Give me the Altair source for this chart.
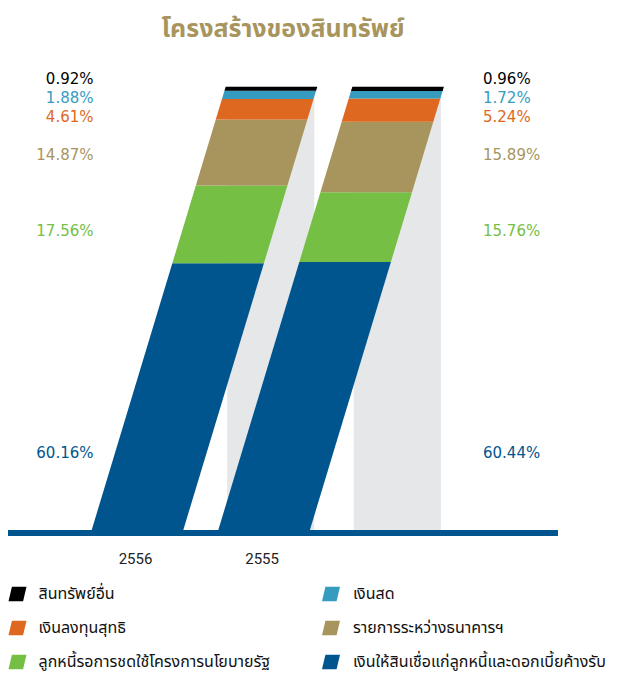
import altair as alt
import pandas as pd

# ---------------- DATA ----------------
categories = [  # bottom -> top of each stacked bar
    "เงินให้สินเชื่อแก่ลูกหนี้และดอกเบี้ยค้างรับ",
    "ลูกหนี้รอการชดใช้โครงการนโยบายรัฐ",
    "รายการระหว่างธนาคารฯ",
    "เงินลงทุนสุทธิ",
    "เงินสด",
    "สินทรัพย์อื่น",
]
colors = ["#00558f", "#74bf44", "#a8955e", "#df6820", "#359cc0", "#000000"]
years = ["2556", "2555"]
values_2556 = [60.16, 17.56, 14.87, 4.61, 1.88, 0.92]
values_2555 = [60.44, 15.76, 15.89, 5.24, 1.72, 0.96]
series = [values_2556, values_2555]
title_text = "โครงสร้างของสินทรัพย์"

# ---------------- LAYOUT ----------------
W_PLOT, H_PLOT = 604, 665          # whole canvas (padding 0, autosize none)
ORIGIN = 8                          # page margin
BASE_PX = 530 - ORIGIN              # y pixel of 0 %
PX_PER_PCT = 4.433                  # pixels per percent
BAR_LEFT = [91.7 - ORIGIN, 218.3 - ORIGIN]
BAR_W = 91.6
SLANT = 134.0                       # horizontal shift over 100 %
label_rows_px = [453, 231, 155, 117, 98, 79]   # label rows, per category
LEFT_LABEL_X = 93.5 - ORIGIN
RIGHT_LABEL_X = 483 - ORIGIN

def to_v(py_plot):
    return (BASE_PX - py_plot) / PX_PER_PCT

y_dom = [to_v(H_PLOT), to_v(0)]
xs = alt.Scale(domain=[0, W_PLOT], nice=False, zero=False)
ys = alt.Scale(domain=y_dom, nice=False, zero=False)
cs = alt.Scale(domain=categories, range=colors)

# ---------------- TABLES ----------------
area_rows, shadow_rows, year_rows = [], [], []
for i, (yr, vals) in enumerate(zip(years, series)):
    cum = 0.0
    for cat, v in zip(categories, vals):
        for yv in (cum, min(cum + v, 100.0)):
            xl = BAR_LEFT[i] + SLANT * yv / 100.0
            area_rows.append({"key": f"{yr}-{cat}", "cat": cat, "y": yv,
                              "xl": xl, "xr": xl + BAR_W})
        cum += v
    top_left = BAR_LEFT[i] + SLANT
    shadow_rows.append({"x": top_left + 1.5, "x2": top_left + BAR_W - 3,
                        "y": 0, "y2": 100})
    year_rows.append({"year": yr, "x": BAR_LEFT[i] + BAR_W / 2 - 2,
                      "y": to_v(559 - ORIGIN)})

areas = pd.DataFrame(area_rows)
shadows = pd.DataFrame(shadow_rows)
yrs = pd.DataFrame(year_rows)

lab_rows = []
for i, vals in enumerate(series):
    for cat, v, row in zip(categories, vals, label_rows_px):
        lab_rows.append({"bar": i, "cat": cat, "txt": f"{v:.2f}%",
                         "x": LEFT_LABEL_X if i == 0 else RIGHT_LABEL_X,
                         "y": to_v(row - ORIGIN)})
labs = pd.DataFrame(lab_rows)

leg_order = categories[::-1]
leg_rows = []
for k, cat in enumerate(leg_order):
    r, c = k // 2, k % 2
    leg_rows.append({"cat": cat,
                     "sx": (17.5 if c == 0 else 331) - ORIGIN,
                     "tx": (38.5 if c == 0 else 353) - ORIGIN,
                     "y": to_v(594 + 34 * r - ORIGIN)})
leg = pd.DataFrame(leg_rows)

# ---------------- MARKS ----------------
shadow = alt.Chart(shadows).mark_rect(color="#e6e7e9").encode(
    x=alt.X("x:Q", scale=xs, axis=None), x2="x2:Q",
    y=alt.Y("y:Q", scale=ys, axis=None), y2="y2:Q")

bars = alt.Chart(areas).mark_area(orient="horizontal", opacity=1).encode(
    y=alt.Y("y:Q", scale=ys, axis=None),
    x=alt.X("xl:Q", scale=xs, axis=None, stack=None), x2="xr:Q",
    color=alt.Color("cat:N", scale=cs, legend=None),
    detail="key:N")

baseline = alt.Chart(shadows).mark_rule(color="#00558f", strokeWidth=6).encode(
    x=alt.value(0), x2=alt.value(558 - ORIGIN), y=alt.value(533 - ORIGIN))

lab_font = dict(font="DejaVu Sans", fontSize=15, baseline="middle")
left_labels = alt.Chart(labs[labs.bar == 0]).mark_text(align="right", **lab_font).encode(
    x=alt.X("x:Q", scale=xs, axis=None), y=alt.Y("y:Q", scale=ys, axis=None),
    text="txt:N", color=alt.Color("cat:N", scale=cs, legend=None))
right_labels = alt.Chart(labs[labs.bar == 1]).mark_text(align="left", **lab_font).encode(
    x=alt.X("x:Q", scale=xs, axis=None), y=alt.Y("y:Q", scale=ys, axis=None),
    text="txt:N", color=alt.Color("cat:N", scale=cs, legend=None))

year_text = alt.Chart(yrs).mark_text(font="Roboto", fontSize=15, color="#222222",
                                     baseline="middle").encode(
    x=alt.X("x:Q", scale=xs, axis=None), y=alt.Y("y:Q", scale=ys, axis=None),
    text="year:N")

title = alt.Chart(yrs.head(1)).mark_text(
    text=title_text, font="Noto Sans Thai, Noto Sans", fontSize=25, fontWeight="bold",
    color="#a8955e", baseline="middle").encode(
    x=alt.value(283 - ORIGIN), y=alt.value(29 - ORIGIN))

swatch_path = "M -1 0.8 L -0.62 -0.8 L 1 -0.8 L 0.62 0.8 Z"
leg_sw = alt.Chart(leg).mark_point(shape=swatch_path, filled=True, size=324,
                                   opacity=1, strokeWidth=0).encode(
    x=alt.X("sx:Q", scale=xs, axis=None), y=alt.Y("y:Q", scale=ys, axis=None),
    color=alt.Color("cat:N", scale=cs, legend=None))
leg_tx = alt.Chart(leg).mark_text(align="left", baseline="middle",
                                  font="Noto Sans Thai, Noto Sans", fontSize=16,
                                  color="#111111").encode(
    x=alt.X("tx:Q", scale=xs, axis=None), y=alt.Y("y:Q", scale=ys, axis=None),
    text="cat:N")

chart = alt.layer(shadow, bars, baseline, left_labels, right_labels, year_text,
                  title, leg_sw, leg_tx).properties(
    width=W_PLOT, height=H_PLOT, padding=0,
    autosize=alt.AutoSizeParams(type="none"),
).configure_view(stroke=None)

chart.save("out.html", embed_options={"renderer": "svg", "actions": False})
